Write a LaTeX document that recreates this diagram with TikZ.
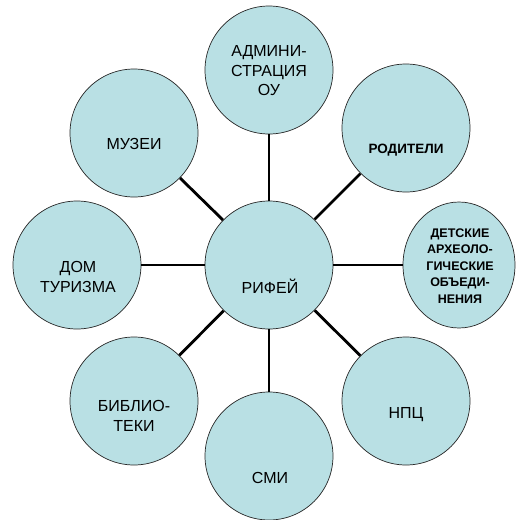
\documentclass[tikz,border=0pt]{standalone}
\usepackage{fontspec}
\setmainfont{Liberation Sans}
\usetikzlibrary{shapes.geometric}
\definecolor{bubfill}{RGB}{185,224,228}
\begin{document}
\begin{tikzpicture}[x=1pt,y=-1pt,
  bub/.style={circle,draw=black!85,line width=0.7pt,fill=bubfill,minimum size=128pt,inner sep=0pt},
  lbl/.style={align=center,font=\fontsize{16}{19.5}\selectfont,inner sep=0pt},
  blbl/.style={align=center,font=\bfseries\fontsize{12.5}{16.6}\selectfont,inner sep=0pt},
  link/.style={line width=2.8pt,black}]
\useasboundingbox (0,0) rectangle (516,520);
% circles
\node[bub] (rif) at (269,265) {};
\node[bub] (adm) at (269,70) {};
\node[bub] (muz) at (134,133) {};
\node[bub] (rod) at (406,128) {};
\node[bub,ellipse,minimum width=112pt,minimum height=126pt] (det) at (459,265) {};
\node[bub] (npc) at (406,401) {};
\node[bub] (smi) at (269,456) {};
\node[bub] (bib) at (134,401) {};
\node[bub] (dom) at (77,265) {};
% connectors
\draw[link] (rif) -- (adm);
\draw[link] (rif) -- (rod);
\draw[link] (rif) -- (det);
\draw[link] (rif) -- (npc);
\draw[link] (rif) -- (smi);
\draw[link] (rif) -- (bib);
\draw[link] (rif) -- (dom);
\draw[link] (rif) -- (muz);
% texts
\node[lbl] (admT) at (269,71) {АДМИНИ-\\СТРАЦИЯ\\ОУ};
\node[lbl] (muzT) at (134,144) {МУЗЕИ};
\node[blbl,font=\bfseries\fontsize{13.5}{16}\selectfont] (rodT) at (406,150) {РОДИТЕЛИ};
\node[blbl] (detT) at (460,266) {ДЕТСКИЕ\\АРХЕОЛО-\\ГИЧЕСКИЕ\\ОБЪЕДИ-\\НЕНИЯ};
\node[lbl] (rifT) at (270,286) {РИФЕЙ};
\node[lbl] (domT) at (78,277) {ДОМ\\ТУРИЗМА};
\node[lbl] (bibT) at (134,416) {БИБЛИО-\\ТЕКИ};
\node[lbl] (smiT) at (270,478) {СМИ};
\node[lbl] (npcT) at (406,415) {НПЦ};
\end{tikzpicture}
\end{document}
